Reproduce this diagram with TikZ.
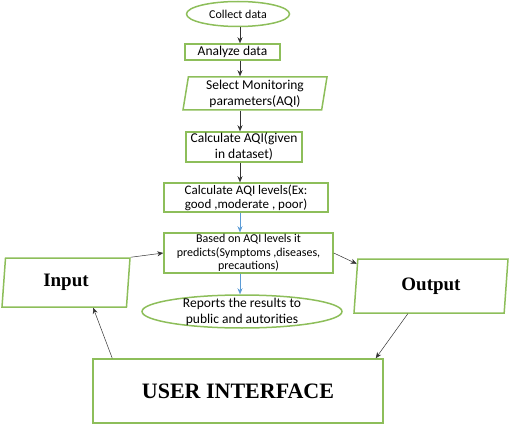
\documentclass[tikz,border=0pt]{standalone}
\usepackage{fontspec}
\setmainfont{Carlito}
\newfontfamily\uifont{Liberation Serif}
\usetikzlibrary{positioning, shapes.geometric, arrows.meta, calc}
\definecolor{boxgreen}{RGB}{141,190,90}
\definecolor{flowblue}{RGB}{91,155,213}

\begin{document}
\begin{tikzpicture}[x=1pt,y=-1pt,
        box/.style={draw=boxgreen,line width=1.5pt,rectangle,align=center,inner sep=1pt,
            font=\fontsize{13.5}{16}\selectfont},
        oval/.style={box,ellipse},
        slanted/.style={box,trapezium,trapezium stretches body,inner sep=0pt},
        bigbox/.style={draw=boxgreen,line width=1.5pt,align=center,
            font=\uifont\bfseries\fontsize{19}{22}\selectfont},
        link/.style={-{Stealth[length=6pt,width=5pt]},line width=0.5pt,black!80},
        bluelink/.style={link,flowblue}]
    \useasboundingbox (0,0) rectangle (509,425);
    % flow down the middle
    \node[oval,minimum width=103,minimum height=25,inner sep=0pt,
        font=\fontsize{12}{14}\selectfont] (collect) at (238,14) {Collect data};
    \node[box,minimum width=95,minimum height=16] (analyze) at (232.5,52) {Analyze data};
    \node[slanted,trapezium left angle=79,trapezium right angle=101,
        minimum width=144,minimum height=33] (select) at (255,93.5) {Select Monitoring\\parameters(AQI)};
    \node[box,minimum width=116,minimum height=30] (calc) at (244,147) {Calculate AQI(given\\in dataset)};
    \node[box,minimum width=164,minimum height=29,
        font=\fontsize{13}{14}\selectfont] (levels) at (246,197.5) {Calculate AQI levels(Ex:\\good ,moderate , poor)};
    \node[box,minimum width=169,minimum height=40,inner sep=0pt,
        font=\fontsize{12}{13.5}\selectfont] (based) at (248.5,253) {Based on AQI levels it\\predicts(Symptoms ,diseases,\\precautions)};
    \node[oval,minimum width=200,minimum height=33,inner xsep=0pt,inner ysep=-3pt] (reports) at (242,311.5) {Reports the results to\\public and autorities};
    % side blocks
    \node[slanted,bigbox,trapezium left angle=78,trapezium right angle=102,
        minimum width=128,minimum height=49] (input) at (66,282.5) {Input};
    \node[slanted,bigbox,trapezium left angle=77,trapezium right angle=103,
        minimum width=154,minimum height=54] (output) at (431,286) {Output};
    \node[bigbox,minimum width=290,minimum height=64,
        font=\uifont\bfseries\fontsize{22}{26}\selectfont] (ui) at (238,391) {USER INTERFACE};
    \coordinate (spine) at (240,0);
    \draw[link] (collect.south -| spine) -- (analyze.north -| spine);
    \draw[link] (analyze.south -| spine) -- (select.north -| spine);
    \draw[link] (select.south -| spine) -- (calc.north -| spine);
    \draw[link] (calc.south -| spine) -- (levels.north -| spine);
    \draw[bluelink] (levels.south -| spine) -- (based.north -| spine);
    \draw[bluelink] (based.south -| spine) -- (reports.north -| spine);
    % loop through the user interface
    \draw[link] (input.top right corner) -- (based.west);
    \draw[link] (based.east) -- ($(output.top left corner)!0.1!(output.bottom left corner)$);
    \draw[link] ($(output.bottom left corner)!0.36!(output.bottom right corner)$) -- ([xshift=-8]ui.north east);
    \draw[link] ([xshift=20]ui.north west) -- ($(input.bottom left corner)!0.73!(input.bottom right corner)$);
\end{tikzpicture}
\end{document}
